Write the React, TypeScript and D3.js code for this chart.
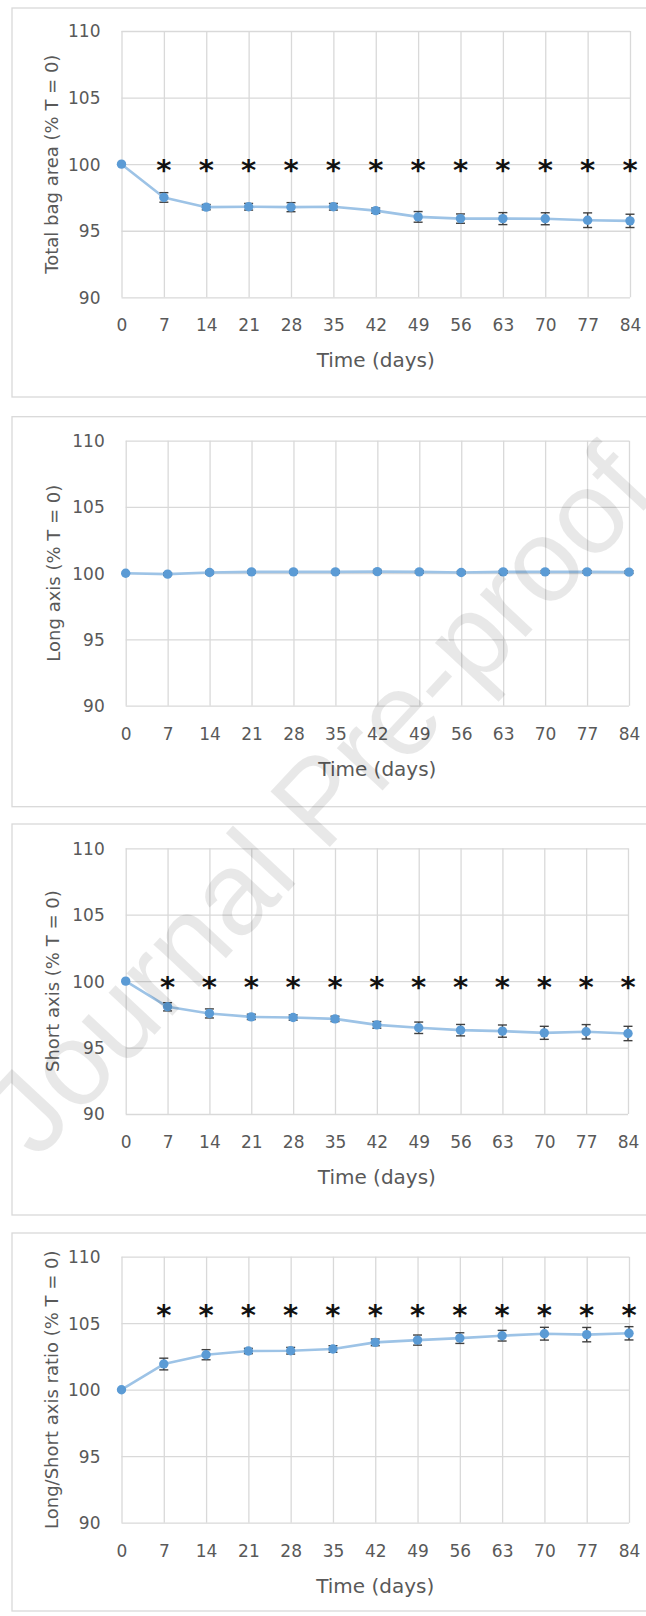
import React, { useEffect, useRef } from 'react';
import * as d3 from 'd3';

// sampling days shared by every panel
const days = [0, 7, 14, 21, 28, 35, 42, 49, 56, 63, 70, 77, 84];
const yTicks = [90, 95, 100, 105, 110];

// values (% of T = 0), with error bar half-lengths
const totalArea = [100, 97.5, 96.77, 96.8, 96.77, 96.8, 96.51, 96.04, 95.91, 95.91, 95.9, 95.79, 95.74];
const totalAreaErr = [0, 0.36, 0.2, 0.25, 0.34, 0.25, 0.2, 0.4, 0.35, 0.45, 0.45, 0.55, 0.5];
const longAxis = [100, 99.93, 100.05, 100.1, 100.1, 100.1, 100.12, 100.1, 100.05, 100.1, 100.1, 100.1, 100.08];
const longAxisErr = [0, 0.1, 0.1, 0.1, 0.1, 0.1, 0.1, 0.1, 0.1, 0.1, 0.1, 0.1, 0.1];
const shortAxis = [100, 98.07, 97.57, 97.31, 97.26, 97.16, 96.71, 96.49, 96.31, 96.24, 96.11, 96.19, 96.06];
const shortAxisErr = [0, 0.31, 0.34, 0.2, 0.2, 0.2, 0.25, 0.43, 0.43, 0.46, 0.49, 0.54, 0.54];
const ratio = [100, 101.93, 102.63, 102.91, 102.93, 103.06, 103.56, 103.73, 103.88, 104.06, 104.21, 104.14, 104.24];
const ratioErr = [0, 0.44, 0.38, 0.2, 0.25, 0.25, 0.25, 0.38, 0.4, 0.4, 0.48, 0.54, 0.5];

// where the significance stars sit (null = none)
const starLevels = [100, null, 100, 106.1];
const titles = [
  'Total bag area (% T = 0)',
  'Long axis (% T = 0)',
  'Short axis (% T = 0)',
  'Long/Short axis ratio (% T = 0)',
];

const W = 646;
const H = 1616;

const App = () => {
  const svgRef = useRef(null);

  useEffect(() => {
    const svg = d3.select(svgRef.current);
    svg.selectAll('*').remove();

    const panels = [
      { values: totalArea, errors: totalAreaErr, box: [8, 397], m: { left: 121.5, right: 630, top: 31, bottom: 297.3 }, titleX: 51.5 },
      { values: longAxis, errors: longAxisErr, box: [416.7, 806.7], m: { left: 125.7, right: 629, top: 440.7, bottom: 705.7 }, titleX: 53.5 },
      { values: shortAxis, errors: shortAxisErr, box: [824, 1215], m: { left: 125.7, right: 628, top: 848.3, bottom: 1114 }, titleX: 52.3 },
      { values: ratio, errors: ratioErr, box: [1233, 1611], m: { left: 121.5, right: 629, top: 1256.7, bottom: 1522.7 }, titleX: 51.5 },
    ];

    svg.append('rect')
      .attr('width', W)
      .attr('height', H)
      .attr('fill', 'white');

    const font = 'DejaVu Sans, sans-serif';
    const grey = '#595959';

    panels.forEach((p, k) => {
      const g = svg.append('g');
      const { m } = p;

      // outer chart frame (runs off the right edge in the original)
      g.append('rect')
        .attr('x', 12)
        .attr('y', p.box[0])
        .attr('width', 660)
        .attr('height', p.box[1] - p.box[0])
        .attr('fill', 'white')
        .attr('stroke', '#d9d9d9')
        .attr('stroke-width', 1.3);

      const x = d3.scaleLinear().domain([0, 84]).range([m.left, m.right]);
      const y = d3.scaleLinear().domain([90, 110]).range([m.bottom, m.top]);

      // horizontal grid + y labels
      const yAxis = d3.axisLeft(y)
        .tickValues(yTicks)
        .tickSize(-(m.right - m.left))
        .tickPadding(21)
        .tickFormat(d3.format('d'));
      const ya = g.append('g')
        .attr('transform', `translate(${m.left},0)`)
        .call(yAxis);
      ya.select('.domain').remove();
      ya.selectAll('line').attr('stroke', '#d9d9d9').attr('stroke-width', 1.3);
      ya.selectAll('text')
        .attr('fill', grey)
        .attr('font-family', font)
        .attr('font-size', 17)
        .attr('dy', '0.35em');

      // vertical grid + x labels
      const xAxis = d3.axisBottom(x)
        .tickValues(days)
        .tickSize(-(m.bottom - m.top))
        .tickFormat(d3.format('d'));
      const xa = g.append('g')
        .attr('transform', `translate(0,${m.bottom})`)
        .call(xAxis);
      xa.select('.domain').remove();
      xa.selectAll('line').attr('stroke', '#d9d9d9').attr('stroke-width', 1.3);
      xa.selectAll('text')
        .attr('fill', grey)
        .attr('font-family', font)
        .attr('font-size', 17)
        .attr('y', 28)
        .attr('dy', '0.35em');

      // axis titles
      g.append('text')
        .attr('x', (m.left + m.right) / 2)
        .attr('y', m.bottom + 63)
        .attr('dy', '0.35em')
        .attr('text-anchor', 'middle')
        .attr('fill', grey)
        .attr('font-family', font)
        .attr('font-size', 20)
        .text('Time (days)');

      g.append('text')
        .attr('transform', `translate(${p.titleX},${(m.top + m.bottom) / 2}) rotate(-90)`)
        .attr('dy', '0.35em')
        .attr('text-anchor', 'middle')
        .attr('fill', grey)
        .attr('font-family', font)
        .attr('font-size', 18)
        .text(titles[k]);

      const pts = days.map((d, i) => ({ d, v: p.values[i], e: p.errors[i] }));

      const line = d3.line()
        .x((d) => x(d.d))
        .y((d) => y(d.v));

      g.append('path')
        .datum(pts)
        .attr('d', line)
        .attr('fill', 'none')
        .attr('stroke', '#9dc3e6')
        .attr('stroke-width', 2.6)
        .attr('stroke-linejoin', 'round');

      // error bars (drawn under the markers, like Excel does here)
      const eb = g.append('g').attr('stroke', '#404040').attr('stroke-width', 1.4);
      pts.filter((d) => d.e > 0).forEach((d) => {
        const cx = x(d.d);
        const y0 = y(d.v - d.e);
        const y1 = y(d.v + d.e);
        eb.append('line').attr('x1', cx).attr('x2', cx).attr('y1', y0).attr('y2', y1);
        eb.append('line').attr('x1', cx - 4.5).attr('x2', cx + 4.5).attr('y1', y0).attr('y2', y0);
        eb.append('line').attr('x1', cx - 4.5).attr('x2', cx + 4.5).attr('y1', y1).attr('y2', y1);
      });

      g.selectAll('circle.pt')
        .data(pts)
        .enter()
        .append('circle')
        .attr('class', 'pt')
        .attr('cx', (d) => x(d.d))
        .attr('cy', (d) => y(d.v))
        .attr('r', 4.7)
        .attr('fill', '#5b9bd5');

      // significance stars
      const lvl = starLevels[k];
      if (lvl !== null) {
        g.selectAll('text.star')
          .data(days.slice(1))
          .enter()
          .append('text')
          .attr('class', 'star')
          .attr('x', (d) => x(d))
          .attr('y', y(lvl) + 16)
          .attr('text-anchor', 'middle')
          .attr('font-family', 'DejaVu Sans, sans-serif')
          .attr('font-weight', 'bold')
          .attr('font-size', 29)
          .attr('fill', '#111')
          .text('*');
      }
    });

    // journal watermark laid over everything
    svg.append('text')
      .attr('transform', 'translate(37,1161) rotate(-47)')
      .attr('font-family', 'Liberation Sans, Arial, sans-serif')
      .attr('font-size', 118)
      .attr('fill', '#000')
      .attr('fill-opacity', 0.09)
      .text('Journal Pre-proof');
  }, []);

  return (
    <svg
      ref={svgRef}
      width={W}
      height={H}
      style={{ position: 'absolute', left: 0, top: 0, display: 'block' }}
    ></svg>
  );
};

export default App;
